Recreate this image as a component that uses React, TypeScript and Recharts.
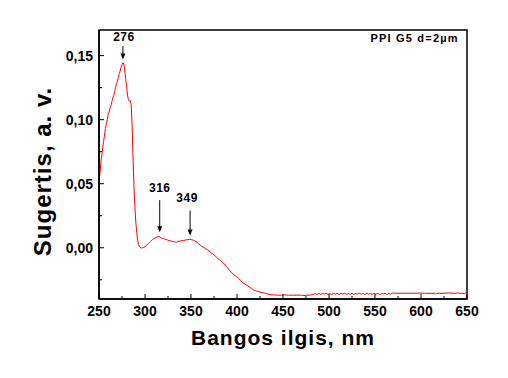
import React from 'react';
import { LineChart, Line, XAxis, YAxis, ReferenceLine, ReferenceArea, ReferenceDot } from 'recharts';

const wavelengths = [
  250, 251, 252, 253, 254, 255, 256, 257, 258, 259, 260, 261, 262, 263, 264, 265, 266, 267, 268, 269,
  270, 271, 272, 273, 274, 275, 276, 277, 278, 279, 280, 281, 282, 283, 284, 285, 286, 287, 288, 289,
  290, 291, 292, 293, 294, 295, 296, 297, 298, 300, 302, 304, 306, 308, 310, 312, 314, 316, 317, 318,
  320, 322, 324, 326, 328, 330, 332, 334, 336, 338, 340, 342, 344, 346, 348, 349, 350, 352, 354, 356,
  358, 360, 362, 364, 366, 368, 370, 372, 374, 376, 378, 380, 382, 385, 388, 390, 392, 394, 396, 398,
  400, 402, 404, 406, 408, 410, 412, 414, 416, 418, 420, 422, 425, 428, 431, 434, 437, 440, 444, 448,
  452, 456, 460, 465, 470, 474, 476, 480, 483, 485, 487, 489, 491, 493, 495, 497, 499, 501, 503, 505,
  507, 509, 511, 513, 515, 517, 519, 521, 523, 525, 527, 529, 531, 533, 535, 537, 539, 541, 543, 545,
  547, 549, 551, 553, 555, 557, 559, 561, 563, 565, 567, 569, 572, 580, 590, 600, 605, 610, 615, 616,
  617, 620, 625, 630, 635, 640, 643, 645, 647, 648, 650,
];

const absorbance = [
  0.051, 0.058, 0.066, 0.072, 0.078, 0.083, 0.088, 0.093, 0.097, 0.1, 0.104, 0.106, 0.109, 0.111, 0.114, 0.117, 0.119, 0.122, 0.125, 0.128,
  0.13, 0.133, 0.136, 0.138, 0.141, 0.143, 0.1445, 0.1435, 0.138, 0.132, 0.126, 0.119, 0.1155, 0.1145, 0.1148, 0.112, 0.095, 0.07, 0.048, 0.032,
  0.02, 0.012, 0.006, 0.0025, 0.001, 0.0002, -0.0003, 0.0, 0.0002, 0.0008, 0.002, 0.0035, 0.005, 0.0063, 0.0072, 0.008, 0.0087, 0.0085, 0.0078, 0.0076,
  0.0072, 0.0066, 0.0062, 0.0056, 0.0054, 0.0049, 0.0046, 0.0043, 0.005, 0.0052, 0.0055, 0.0057, 0.006, 0.0063, 0.0065, 0.0068, 0.0063, 0.0061, 0.0054, 0.0046,
  0.0033, 0.002, 0.001, 0.0001, -0.0008, -0.0017, -0.0027, -0.004, -0.005, -0.0062, -0.0075, -0.0088, -0.01, -0.0117, -0.0143, -0.016, -0.0178, -0.0195, -0.0207, -0.0218,
  -0.0228, -0.024, -0.0257, -0.027, -0.028, -0.029, -0.03, -0.031, -0.032, -0.0328, -0.0335, -0.034, -0.0346, -0.035, -0.0356, -0.0362, -0.0367, -0.0368, -0.037, -0.037,
  -0.0368, -0.037, -0.037, -0.037, -0.037, -0.0373, -0.037, -0.037, -0.0363, -0.0358, -0.0365, -0.0356, -0.0364, -0.0357, -0.0362, -0.0355, -0.0363, -0.0358, -0.0365, -0.0357,
  -0.0362, -0.0356, -0.0364, -0.0357, -0.0361, -0.0355, -0.0363, -0.0358, -0.0362, -0.0356, -0.0364, -0.0357, -0.0362, -0.0355, -0.0363, -0.0357, -0.0364, -0.0356, -0.0362, -0.0358,
  -0.0364, -0.0357, -0.0362, -0.0356, -0.0364, -0.0358, -0.0361, -0.0356, -0.0363, -0.0357, -0.0362, -0.0354, -0.0355, -0.0355, -0.0355, -0.0354, -0.0355, -0.0356, -0.0355, -0.0362,
  -0.0356, -0.0356, -0.0355, -0.0353, -0.0355, -0.0354, -0.0356, -0.0354, -0.036, -0.0353, -0.0352,
];

const xTicks = [250, 275, 300, 325, 350, 375, 400, 425, 450, 475, 500, 525, 550, 575, 600, 625, 650];
const yTicks = [-0.025, 0, 0.025, 0.05, 0.075, 0.1, 0.125, 0.15];

const peakLabels = ['276', '316', '349'];
const peakX = [276, 316, 349];
const arrowTop = [0.1575, 0.0372, 0.0291];
const arrowTip = [0.147, 0.0122, 0.0096];
const labelY = [0.1648, 0.0463, 0.0385];
const labelShift = [1, 0, -3];

const sampleLabel = 'PPI G5 d=2µm';
const xTitle = 'Bangos ilgis, nm';
const yTitle = 'Sugertis, a. v.';

const data = wavelengths.map((w, i) => ({ w, a: absorbance[i] }));

const FONT = '"Liberation Sans", Arial, sans-serif';

const XTick = (props: any) => {
  const { x, y, payload } = props;
  const major = payload.value % 50 === 0;
  return (
    <g>
      <line x1={x} x2={x} y1={y} y2={y - (major ? 5 : 3)} stroke="#000" strokeWidth={1} />
      {major && (
        <text x={x} y={y + 17} textAnchor="middle" fontFamily={FONT} fontWeight="bold" fontSize={14} fill="#000">
          {payload.value}
        </text>
      )}
    </g>
  );
};

const YTick = (props: any) => {
  const { x, y, payload } = props;
  const v = payload.value;
  const major = Math.round(v * 40) % 2 === 0;
  return (
    <g>
      <line x1={x} x2={x + (major ? 5 : 3)} y1={y} y2={y} stroke="#000" strokeWidth={1} />
      {major && (
        <text x={x - 6} y={y + 5} textAnchor="end" fontFamily={FONT} fontWeight="bold" fontSize={14} fill="#000">
          {v.toFixed(2).replace('.', ',')}
        </text>
      )}
    </g>
  );
};

const Arrow = (props: any) => {
  const { x1, y1, x2, y2 } = props;
  return (
    <g>
      <line x1={x1} y1={y1} x2={x2} y2={y2 - 5} stroke="#000" strokeWidth={1} />
      <polygon points={`${x2 - 2.5},${y2 - 6} ${x2 + 2.5},${y2 - 6} ${x2},${y2}`} fill="#000" />
    </g>
  );
};

export default function App() {
  return (
    <div style={{ position: 'absolute', left: 0, top: 0, background: '#fff' }}>
      <LineChart width={508} height={378} data={data} margin={{ top: 30, right: 41, bottom: 0, left: 0 }}>
        <XAxis
          dataKey="w"
          type="number"
          domain={[250, 650]}
          ticks={xTicks}
          interval={0}
          tickSize={0}
          tickMargin={0}
          tickLine={false}
          tick={<XTick />}
          height={79}
          axisLine={{ stroke: '#000', strokeWidth: 1.5 }}
          label={(p: any) => {
            const vb = p.viewBox;
            return (
              <text x={vb.x + vb.width / 2} y={vb.y + 46} textAnchor="middle" fontFamily={FONT} fontWeight="bold" fontSize={21} letterSpacing={1} fill="#000">
                {xTitle}
              </text>
            );
          }}
        />
        <YAxis
          type="number"
          domain={[-0.04, 0.17]}
          ticks={yTicks}
          interval={0}
          tickSize={0}
          tickMargin={0}
          tickLine={false}
          tick={<YTick />}
          width={99}
          axisLine={{ stroke: '#000', strokeWidth: 1.5 }}
          allowDataOverflow
          label={(p: any) => {
            const vb = p.viewBox;
            const cx = 42;
            const cy = vb.y + vb.height / 2 + 7;
            return (
              <text x={cx} y={cy} transform={`rotate(-90 ${cx} ${cy})`} textAnchor="middle" dominantBaseline="central" fontFamily={FONT} fontWeight="bold" fontSize={24} letterSpacing={1} fill="#000">
                {yTitle}
              </text>
            );
          }}
        />
        <ReferenceArea x1={250} x2={650} y1={-0.04} y2={0.17} fill="none" stroke="#000" strokeWidth={1.5} ifOverflow="visible" />
        <Line type="linear" dataKey="a" stroke="#ff0000" strokeWidth={1} dot={false} isAnimationActive={false} />
        {peakX.map((px, i) => (
          <ReferenceLine
            key={'arr' + i}
            segment={[{ x: px, y: arrowTop[i] }, { x: px, y: arrowTip[i] }]}
            shape={<Arrow />}
            ifOverflow="visible"
          />
        ))}
        {peakX.map((px, i) => (
          <ReferenceDot
            key={'lab' + i}
            x={px}
            y={labelY[i]}
            r={0}
            ifOverflow="visible"
            shape={(p: any) => (
              <text x={p.cx + labelShift[i]} y={p.cy + 4} textAnchor="middle" fontFamily={FONT} fontWeight="bold" fontSize={12} letterSpacing={0.5} fill="#000">
                {peakLabels[i]}
              </text>
            )}
          />
        ))}
        <ReferenceDot
          x={641}
          y={0.1635}
          r={0}
          ifOverflow="visible"
          shape={(p: any) => (
            <text x={p.cx} y={p.cy + 4} textAnchor="end" fontFamily={FONT} fontWeight="bold" fontSize={11} letterSpacing={1.2} fill="#000">
              {sampleLabel}
            </text>
          )}
        />
      </LineChart>
    </div>
  );
}
